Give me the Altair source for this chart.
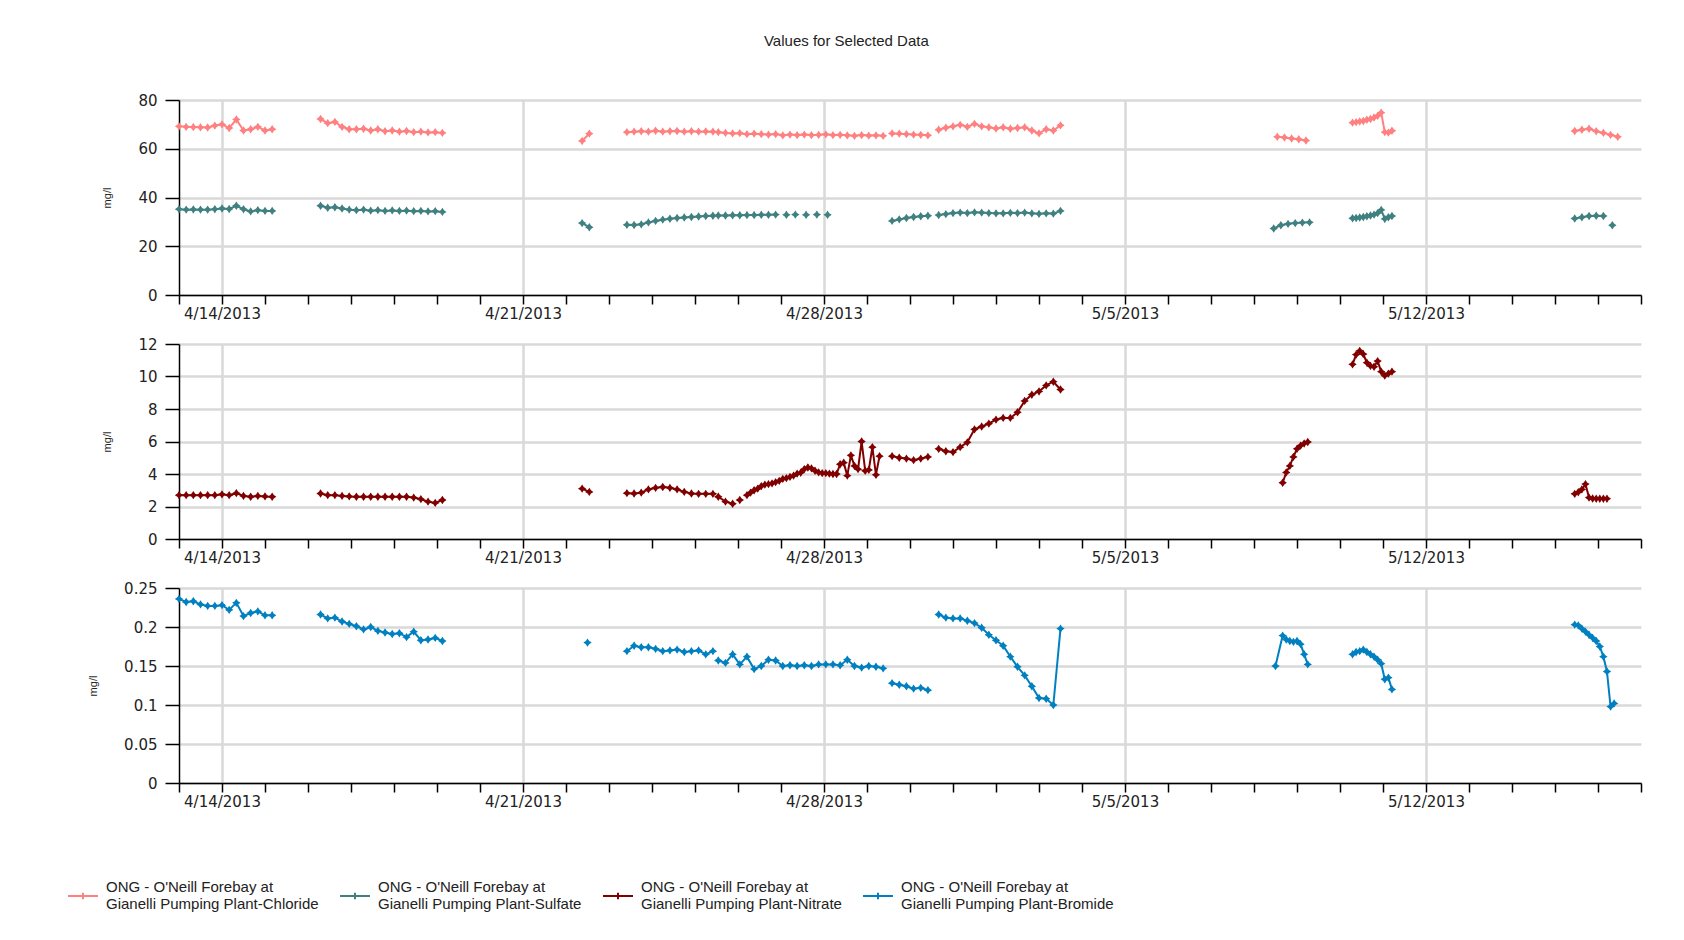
import altair as alt
import pandas as pd

BASE = pd.Timestamp("2013-04-13 00:00")
FONT = "Liberation Sans"
TICK_FONT = "DejaVu Sans"

SERIES_NAMES = [
    "ONG - O'Neill Forebay at Gianelli Pumping Plant-Chloride",
    "ONG - O'Neill Forebay at Gianelli Pumping Plant-Sulfate",
    "ONG - O'Neill Forebay at Gianelli Pumping Plant-Nitrate",
    "ONG - O'Neill Forebay at Gianelli Pumping Plant-Bromide",
]
COLORS = ["#FF8080", "#408080", "#800000", "#0080C0"]

# Each run of samples: (start hour after 4/13/2013 00:00, hours between samples, values)
CHLORIDE = [
    (0, 4, [69.2, 69.0, 68.9, 68.8, 68.7, 69.5, 70.0, 68.5, 72.0, 67.5, 68.0, 69.0, 67.5, 68.0]),
    (79, 4, [72.2, 70.5, 71.0, 69.0, 68.0, 68.0, 68.2, 67.5, 68.0, 67.2, 67.5, 67.0, 67.3, 66.8, 67.0, 66.7, 66.8, 66.5]),
    (225, 4, [63.2, 66.2]),
    (250, 4, [66.8, 67.0, 67.2, 67.0, 67.4, 67.0, 67.2, 67.3, 67.0, 67.2, 67.0, 67.1, 67.0]),
    (301, 4, [66.8, 66.5, 66.3, 66.4, 66.0, 66.2, 66.0, 65.8, 66.0, 65.5, 65.8, 65.6, 65.8, 65.6, 65.7, 65.9,
              65.6, 65.7, 65.5, 65.3, 65.6, 65.4, 65.5, 65.3]),
    (398, 4, [66.3, 66.2, 66.0, 65.8, 65.7, 65.5]),
    (424, 4, [67.8, 68.6, 69.2, 69.8, 69.0, 70.2, 69.2, 68.8, 68.3, 68.8, 68.2, 68.5, 68.8, 67.5, 66.3, 68.0, 67.5, 69.6]),
    (613, 4, [64.9, 64.6, 64.2, 63.9, 63.4]),
    (655, 2, [70.7, 70.9, 71.2, 71.4, 71.9, 72.2, 72.8, 73.5, 74.8, 66.8, 66.6, 67.4]),
    (779, 4, [67.3, 67.8, 68.2, 67.2, 66.5, 65.7, 64.9]),
]

SULFATE = [
    (0, 4, [35.2, 35.0, 35.1, 35.0, 35.0, 35.2, 35.5, 35.3, 36.6, 35.2, 34.3, 34.8, 34.5, 34.5]),
    (79, 4, [36.6, 35.8, 36.0, 35.5, 35.0, 34.8, 35.0, 34.6, 34.8, 34.5, 34.7, 34.5, 34.6, 34.4, 34.5, 34.3, 34.4, 34.1]),
    (225, 4, [29.5, 27.8]),
    (250, 4, [28.8, 28.7, 29.0, 29.8, 30.4, 30.9, 31.3, 31.6, 31.8, 32.0, 32.2, 32.4, 32.5]),
    (301, 4, [32.6, 32.6, 32.7, 32.7, 32.8, 32.8, 32.9, 32.9, 33.0]),
    (339, 1, [32.9]),
    (344, 1, [33.0]),
    (350, 1, [32.9]),
    (356, 1, [33.0]),
    (362, 1, [32.9]),
    (398, 4, [30.4, 31.0, 31.6, 32.0, 32.3, 32.5]),
    (424, 4, [32.8, 33.2, 33.6, 33.8, 33.6, 33.9, 33.8, 33.6, 33.5, 33.5, 33.7, 33.6, 33.8, 33.5, 33.3, 33.5, 33.4, 34.5]),
    (611, 4, [27.3, 28.6, 29.2, 29.5, 29.7, 29.8]),
    (655, 2, [31.5, 31.6, 31.8, 32.0, 32.3, 32.6, 33.0, 33.6, 34.9, 31.2, 31.9, 32.4]),
    (779, 4, [31.4, 31.9, 32.4, 32.5, 32.4]),
    (800, 1, [28.6]),
]

NITRATE = [
    (0, 4, [2.7, 2.7, 2.7, 2.7, 2.7, 2.7, 2.75, 2.7, 2.82, 2.65, 2.6, 2.65, 2.62, 2.6]),
    (79, 4, [2.8, 2.7, 2.7, 2.65, 2.62, 2.6, 2.6, 2.6, 2.6, 2.6, 2.6, 2.6, 2.6, 2.55, 2.45, 2.3, 2.22, 2.4]),
    (225, 4, [3.1, 2.9]),
    (250, 4, [2.82, 2.8, 2.85, 3.05, 3.15, 3.2, 3.15, 3.05, 2.9, 2.8, 2.78, 2.78, 2.78]),
    (301, 4, [2.6, 2.3, 2.17]),
    (313, 1, [2.4]),
    (317, 2, [2.70, 2.85, 3.00, 3.10, 3.25, 3.35, 3.38, 3.42, 3.50, 3.58, 3.70, 3.75, 3.82, 3.90, 4.02, 4.08,
              4.30, 4.40, 4.35, 4.20, 4.10, 4.05, 4.05, 4.02, 4.00, 4.00, 4.60, 4.70, 3.90, 5.15, 4.50, 4.30,
              6.00, 4.20, 4.25, 5.65, 3.95, 5.10]),
    (398, 4, [5.1, 5.0, 4.95, 4.85, 4.95, 5.05]),
    (424, 4, [5.55, 5.40, 5.35, 5.65, 5.95, 6.75, 6.92, 7.10, 7.35, 7.45, 7.45, 7.80, 8.50, 8.88, 9.08, 9.45, 9.68, 9.20]),
    (616, 2, [3.46, 4.1, 4.5, 5.05, 5.55, 5.75, 5.88, 5.97]),
    (655, 2, [10.75, 11.35, 11.58, 11.38, 10.85, 10.65, 10.6, 10.95, 10.3, 10.05, 10.18, 10.3]),
    (779, 2, [2.78, 2.88, 3.05, 3.38, 2.55, 2.49, 2.48, 2.48, 2.48, 2.48]),
]

BROMIDE = [
    (0, 4, [0.236, 0.232, 0.233, 0.229, 0.227, 0.227, 0.228, 0.222, 0.231, 0.214, 0.218, 0.220, 0.215, 0.215]),
    (79, 4, [0.216, 0.211, 0.212, 0.207, 0.204, 0.201, 0.197, 0.200, 0.195, 0.193, 0.191, 0.192, 0.187, 0.194,
             0.183, 0.184, 0.186, 0.182]),
    (228, 1, [0.180]),
    (250, 4, [0.169, 0.176, 0.174, 0.174, 0.172, 0.169, 0.170, 0.171, 0.168, 0.169, 0.170, 0.165, 0.169]),
    (301, 4, [0.157, 0.154, 0.165, 0.152, 0.162, 0.146, 0.150, 0.158, 0.157, 0.150, 0.151, 0.150, 0.151, 0.150,
              0.152, 0.152, 0.152, 0.151, 0.158, 0.150, 0.148, 0.150, 0.149, 0.147]),
    (398, 4, [0.128, 0.126, 0.124, 0.121, 0.122, 0.119]),
    (424, 4, [0.216, 0.212, 0.211, 0.211, 0.208, 0.205, 0.199, 0.190, 0.183, 0.176, 0.162, 0.149, 0.138, 0.124,
              0.109, 0.108, 0.100, 0.198]),
    (612, 2, [0.150, None, 0.189, 0.184, 0.182, 0.181, 0.182, 0.178, 0.165, 0.152]),
    (655, 2, [0.165, 0.168, 0.169, 0.171, 0.168, 0.165, 0.162, 0.158, 0.153, 0.133, 0.135, 0.120]),
    (779, 2, [0.203, 0.202, 0.198, 0.194, 0.190, 0.186, 0.182, 0.175, 0.162, 0.143, 0.098, 0.102]),
]

Y_TICKS = [
    [0, 20, 40, 60, 80],
    [0, 2, 4, 6, 8, 10, 12],
    [0, 0.05, 0.1, 0.15, 0.2, 0.25],
]


def build_rows(name, segments):
    rows = []
    for k, (start, step, vals) in enumerate(segments):
        for i, v in enumerate(vals):
            if v is None:
                continue
            rows.append({
                "series": name,
                "seg": f"{name}#{k}",
                "time": (BASE + pd.Timedelta(hours=start + i * step)).strftime("%Y-%m-%dT%H:%M:%S"),
                "value": v,
            })
    return rows


df1 = pd.DataFrame(build_rows(SERIES_NAMES[0], CHLORIDE) + build_rows(SERIES_NAMES[1], SULFATE))
df2 = pd.DataFrame(build_rows(SERIES_NAMES[2], NITRATE))
df3 = pd.DataFrame(build_rows(SERIES_NAMES[3], BROMIDE))

days = pd.date_range("2013-04-13", "2013-05-17", freq="D")
day_values = [alt.DateTime(year=d.year, month=d.month, date=d.day) for d in days]
x_domain = [alt.DateTime(year=2013, month=4, date=13), alt.DateTime(year=2013, month=5, date=17)]

STAR = "M0,-1L0.4,-0.4L1,0L0.4,0.4L0,1L-0.4,0.4L-1,0L-0.4,-0.4Z"
LEGEND_SYMBOL = "M-1,0L1,0M0,-0.22L0,0.22"

color_scale = alt.Scale(domain=SERIES_NAMES, range=COLORS)
legend = alt.Legend(
    title=None, orient="none", legendX=-112, legendY=780, direction="horizontal", columns=4,
    symbolType=LEGEND_SYMBOL, symbolSize=900, symbolStrokeWidth=2,
    labelFont=FONT, labelFontSize=15, labelColor="#222222", labelLimit=400, labelOffset=7,
    labelBaseline="line-bottom",
    labelExpr="[slice(datum.label, 0, 24), slice(datum.label, 25)]",
    columnPadding=17, padding=0,
)

x_axis = alt.Axis(
    values=day_values, title=None, labelOverlap=False, labelFlush=False,
    labelExpr="day(datum.value) == 0 ? timeFormat(datum.value, '%-m/%-d/%Y') : ''",
    tickSize=9, tickColor="black", tickWidth=1.5, domainColor="black", domainWidth=1.5,
    labelPadding=2, labelFont=TICK_FONT, labelFontSize=15, labelColor="#222222",
    gridColor="#d9d9d9", gridWidth=2.5,
    gridOpacity={"condition": {"test": "day(datum.value) == 0", "value": 1}, "value": 0},
)


def panel(df, ticks):
    y_axis = alt.Axis(
        values=ticks, title="mg/l", format="~r", titleFont=FONT, titleFontSize=11, titleFontWeight="normal",
        titleColor="#222222", titlePadding=25,
        tickSize=14, tickColor="black", tickWidth=1.5, domainColor="black", domainWidth=1.5,
        labelPadding=8, labelFont=TICK_FONT, labelFontSize=15, labelColor="#222222",
        gridColor="#d9d9d9", gridWidth=2.5,
    )
    return alt.Chart(df).mark_line(
        strokeWidth=2,
        point=alt.OverlayMarkDef(shape=STAR, size=70, filled=True, opacity=1),
    ).encode(
        x=alt.X("time:T", scale=alt.Scale(domain=x_domain), axis=x_axis),
        y=alt.Y("value:Q", scale=alt.Scale(domain=[ticks[0], ticks[-1]], nice=False), axis=y_axis),
        color=alt.Color("series:N", scale=color_scale, legend=legend),
        detail="seg:N",
    ).properties(width=1462, height=195)


chart = alt.vconcat(
    panel(df1, Y_TICKS[0]),
    panel(df2, Y_TICKS[1]),
    panel(df3, Y_TICKS[2]),
    spacing=16,
).properties(
    title=alt.TitleParams(
        "Values for Selected Data", font=FONT, fontSize=15, fontWeight="normal", color="#222222",
        anchor="middle", frame="bounds", offset=44, dx=-8,
    ),
    padding={"left": 59, "top": 26, "right": 5, "bottom": 5},
    background="white",
).configure_view(strokeWidth=0)

chart.save("out.html", embed_options={"renderer": "svg", "actions": False})
